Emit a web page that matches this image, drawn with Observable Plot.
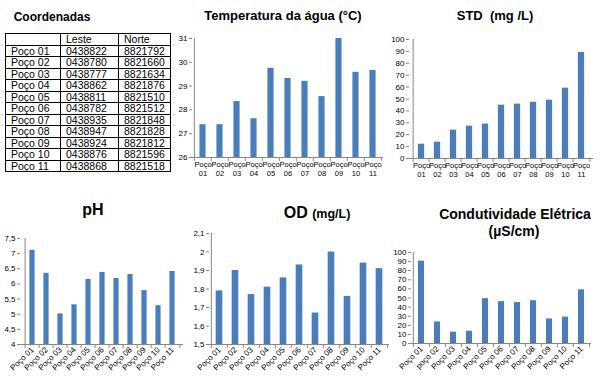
<!DOCTYPE html>
<html>
<head>
<meta charset="utf-8">
<script src="https://cdn.jsdelivr.net/npm/d3@7"></script>
<script src="https://cdn.jsdelivr.net/npm/@observablehq/plot@0.6"></script>
<style>
  body { margin: 0; background: #fff; font-family: "Liberation Sans", Arial, sans-serif; }
  #root { position: relative; width: 600px; height: 383px; overflow: hidden; background: #fff; }
  .t { position: absolute; font-weight: bold; color: #000; white-space: nowrap; transform: translate(-50%, -50%); line-height: 1; }
  .c { position: absolute; }
  .c svg { overflow: visible; }
  #tbl { position: absolute; left: 5px; top: 33px; border-collapse: collapse; font-size: 10.5px; color: #000; }
  #tbl td { border: 1px solid #000; padding: 0 0 0 5px; height: 10.5px; line-height: 10px; white-space: nowrap; }
</style>
</head>
<body>
<div id="root"></div>
<script>
// ---------- data ----------
const wells = ["Poço 01","Poço 02","Poço 03","Poço 04","Poço 05","Poço 06","Poço 07","Poço 08","Poço 09","Poço 10","Poço 11"];
const condWells = ["Poço 01","poço 02","Poço 03","Poço 04","Poço 05","Poço 06","Poço 07","Poço 08","Poço 09","Poço 10","Poço 11"];
const leste = ["0438822","0438780","0438777","0438862","0438811","0438782","0438935","0438947","0438924","0438876","0438868"];
const norte = ["8821792","8821660","8821634","8821876","8821510","8821512","8821848","8821828","8821812","8821596","8821518"];

const temperatura = [27.38, 27.38, 28.35, 27.63, 29.75, 29.32, 29.2, 28.56, 31.0, 29.58, 29.66];
const std = [12, 13.7, 23.8, 27.2, 28.9, 44.8, 45.7, 47.3, 49, 59.1, 89.1];
const ph = [7.11, 6.35, 5.01, 5.31, 6.15, 6.38, 6.18, 6.31, 5.78, 5.28, 6.41];
const od = [1.79, 1.90, 1.77, 1.81, 1.86, 1.93, 1.67, 2.00, 1.76, 1.94, 1.91];
const condutividade = [90.5, 23.7, 12.5, 13.5, 49.3, 46, 45, 47, 27, 29, 59];

const tempTicks = [26, 27, 28, 29, 30, 31];
const stdTicks = [0, 10, 20, 30, 40, 50, 60, 70, 80, 90, 100];
const phTicks = [4, 4.5, 5, 5.5, 6, 6.5, 7, 7.5];
const odTicks = [1.5, 1.6, 1.7, 1.8, 1.9, 2, 2.1];
const condTicks = [0, 10, 20, 30, 40, 50, 60, 70, 80, 90, 100];

// ---------- style ----------
const FONT = "Liberation Sans, Arial, sans-serif";
const BAR = "#4a7ebb";
const AXIS = "#868686";
const comma = d => String(d).replace(".", ",");

const root = document.getElementById("root");

function addTitle(html, x, y, size) {
  const d = document.createElement("div");
  d.className = "t";
  d.style.left = x + "px";
  d.style.top = y + "px";
  d.style.fontSize = size + "px";
  d.innerHTML = html;
  root.appendChild(d);
}

function barChart(cfg) {
  const {labels, values, domain, ticks, base, left, top, width, height, ml, mr, mt, mb, barW, rotate, labelFmt} = cfg;
  const rows = labels.map((l, i) => ({label: l, value: values[i]}));
  const n = labels.length;
  const step = (width - ml - mr) / n;
  const inset = (step - barW) / 2;
  const tickLen = 4 * (domain[1] - domain[0]) / (height - mt - mb);
  const xAxis = rotate
    ? Plot.axisX({label: null, tickSize: 0, tickPadding: 4, tickRotate: -45, textAnchor: "end", fontSize: 8, tickFormat: labelFmt})
    : Plot.axisX({label: null, tickSize: 0, tickPadding: 3, fontSize: 7.5, tickFormat: labelFmt, lineHeight: 1.2});
  const p = Plot.plot({
    width, height,
    marginLeft: ml, marginRight: mr, marginTop: mt, marginBottom: mb,
    style: {fontFamily: FONT, fontSize: "8px", color: "#000", background: "transparent", overflow: "visible"},
    x: {type: "band", domain: labels, paddingInner: 0, paddingOuter: 0, label: null},
    y: {domain, label: null},
    marks: [
      Plot.barY(rows, {x: "label", y1: base, y2: "value", fill: BAR, insetLeft: inset, insetRight: inset}),
      Plot.ruleY([base], {stroke: AXIS}),
      Plot.ruleX([labels[0]], {dx: -step / 2, y1: domain[0], y2: domain[1], stroke: AXIS}),
      Plot.ruleX(labels, {dx: -step / 2, y1: base - tickLen, y2: base, stroke: AXIS}),
      Plot.ruleX([labels[n - 1]], {dx: step / 2, y1: base - tickLen, y2: base, stroke: AXIS}),
      Plot.axisY({label: null, ticks, tickFormat: comma, tickSize: 3, tickPadding: 2, stroke: AXIS, fill: "#000", fontSize: 8}),
      xAxis
    ]
  });
  const wrap = document.createElement("div");
  wrap.className = "c";
  wrap.style.left = left + "px";
  wrap.style.top = top + "px";
  wrap.appendChild(p);
  root.appendChild(wrap);
}

// ---------- table ----------
addTitle("Coordenadas", 52, 17, 12);
const tbl = document.createElement("table");
tbl.id = "tbl";
const colW = [55, 58, 52];
const header = ["", "Leste", "Norte"];
const trh = document.createElement("tr");
header.forEach((h, j) => {
  const td = document.createElement("td");
  td.textContent = h;
  td.style.width = (colW[j] - 6) + "px";
  trh.appendChild(td);
});
tbl.appendChild(trh);
wells.forEach((w, i) => {
  const tr = document.createElement("tr");
  [w, leste[i], norte[i]].forEach(v => {
    const td = document.createElement("td");
    td.textContent = v;
    tr.appendChild(td);
  });
  tbl.appendChild(tr);
});
root.appendChild(tbl);

// ---------- top charts ----------
addTitle("Temperatura da água (°C)", 283, 15, 13);
barChart({labels: wells, values: temperatura, domain: [26, 31], ticks: tempTicks, base: 26,
  left: 170, top: 30, width: 220, height: 155, ml: 22, mr: 7, mt: 8, mb: 28, barW: 6.5,
  rotate: false, labelFmt: d => d.replace(" ", "\n")});

addTitle("STD&nbsp; (mg /L)", 495, 15, 13);
barChart({labels: wells, values: std, domain: [0, 100], ticks: stdTicks, base: 0,
  left: 385, top: 30, width: 213, height: 155, ml: 24, mr: 5, mt: 9, mb: 27, barW: 7,
  rotate: false, labelFmt: d => d.replace(" ", "\n")});

// ---------- bottom charts ----------
addTitle("pH", 93, 210, 16);
barChart({labels: wells, values: ph, domain: [4, 7.5], ticks: phTicks, base: 4,
  left: 0, top: 228, width: 190, height: 155, ml: 20, mr: 7, mt: 10, mb: 39, barW: 6,
  rotate: true, labelFmt: d => d});

addTitle('OD <span style="font-size:12.5px">(mg/L)</span>', 317, 213, 16);
barChart({labels: wells, values: od, domain: [1.5, 2.1], ticks: odTicks, base: 1.5,
  left: 190, top: 225, width: 205, height: 158, ml: 19, mr: 6, mt: 8, mb: 39, barW: 7,
  rotate: true, labelFmt: d => d});

addTitle("Condutividade Elétrica", 515, 214, 14);
addTitle("(µS/cm)", 514, 231, 14);
barChart({labels: condWells, values: condutividade, domain: [0, 100], ticks: condTicks, base: 0,
  left: 390, top: 242, width: 205, height: 141, ml: 21, mr: 4, mt: 10, mb: 40, barW: 6.5,
  rotate: true, labelFmt: d => d});
</script>
</body>
</html>
